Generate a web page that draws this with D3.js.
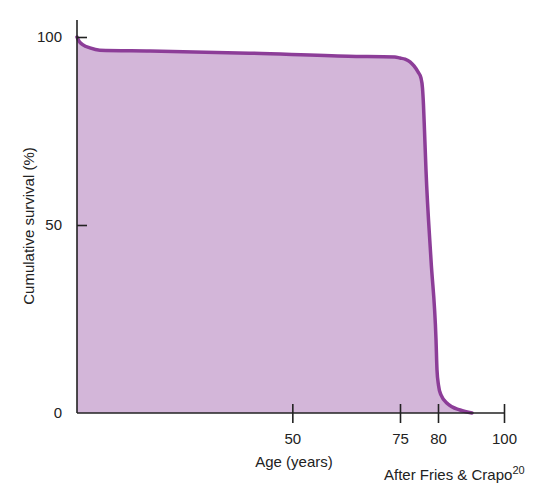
<!DOCTYPE html>
<html>
<head>
<meta charset="utf-8">
<script src="https://cdn.jsdelivr.net/npm/d3@7"></script>
<style>
body { margin: 0; background: #fff; }
text { font-family: "Liberation Sans", Arial, sans-serif; }
</style>
</head>
<body>
<svg id="chart"></svg>
<script>
var width = 555,
    height = 494;

// survival curve (age in years, cumulative survival %)
var ages     = [0, 0.46, 1.4, 3.0, 5.3, 17, 40, 63, 73.8, 75.0, 75.66, 76.32, 76.84, 77.37, 77.76, 77.96, 78.09, 78.22, 78.42, 79.08, 79.74, 79.87, 80.15, 80.9, 83.0, 86.7, 90.3];
var survival = [100, 98.9, 97.9, 97.1, 96.5, 96.3, 95.7, 94.9, 94.7, 94.4, 94.1, 93.4, 92.3, 90.7, 89.1, 86.4, 81.9, 75.3, 64.6, 40.7, 19.4, 11.4, 7.4, 4.8, 2.4, 0.8, 0];
var xTicks = [50, 75, 80, 100];
var yTicks = [0, 50, 100];

var data = ages.map(function(a, i) { return {age: a, s: survival[i]}; });

var svg = d3.select("#chart").attr("width", width).attr("height", height);

// the printed axis is not evenly spaced, so use a piecewise scale
var x = d3.scaleLinear().domain([0, 75, 80, 100]).range([77, 400, 438, 504]);
var y = d3.scaleLinear().domain([0, 100]).range([413, 37]);

var area = d3.area()
    .x(function(d) { return x(d.age); })
    .y0(y(0))
    .y1(function(d) { return y(d.s); })
    .curve(d3.curveMonotoneX);

var line = d3.line()
    .x(function(d) { return x(d.age); })
    .y(function(d) { return y(d.s); })
    .curve(d3.curveMonotoneX);

svg.append("path")
    .datum(data)
    .attr("d", area)
    .style("fill", "#d3b6d9");

svg.append("path")
    .datum(data)
    .attr("d", line)
    .style("fill", "none")
    .style("stroke", "#8c3d98")
    .style("stroke-width", 3.5)
    .style("stroke-linecap", "round")
    .style("stroke-linejoin", "round");

// axes
var xAxis = svg.append("g")
    .attr("transform", "translate(0," + y(0) + ")")
    .call(d3.axisBottom(x).tickValues(xTicks).tickSize(10).tickPadding(10));
xAxis.select(".domain").attr("d", "M" + x(0) + ",0H" + x(100));
xAxis.selectAll(".tick line").attr("y1", -9);

var yAxis = svg.append("g")
    .attr("transform", "translate(" + x(0) + ",0)")
    .call(d3.axisLeft(y).tickValues(yTicks).tickSize(9).tickPadding(6));
yAxis.select(".domain").attr("d", "M0,20V" + y(0));
yAxis.selectAll(".tick line").attr("x2", 10);
yAxis.selectAll(".tick").filter(function(d) { return d === 0; }).select("line").remove();

svg.selectAll(".domain, .tick line")
    .style("stroke", "#222")
    .style("stroke-width", 1.6);
svg.selectAll(".tick text")
    .style("font-size", "15px")
    .style("fill", "#222")
    .style("font-family", "Liberation Sans, Arial, sans-serif");

// labels
svg.append("text")
    .attr("x", 294)
    .attr("y", 467)
    .attr("text-anchor", "middle")
    .style("font-size", "15px")
    .style("fill", "#222")
    .text("Age (years)");

svg.append("text")
    .attr("transform", "translate(34,226) rotate(-90)")
    .attr("text-anchor", "middle")
    .style("font-size", "15px")
    .style("fill", "#222")
    .text("Cumulative survival (%)");

var credit = svg.append("text")
    .attr("x", 384)
    .attr("y", 480)
    .style("font-size", "15px")
    .style("fill", "#222")
    .text("After Fries & Crapo");
credit.append("tspan")
    .attr("dy", -6)
    .style("font-size", "11px")
    .text("20");
</script>
</body>
</html>
